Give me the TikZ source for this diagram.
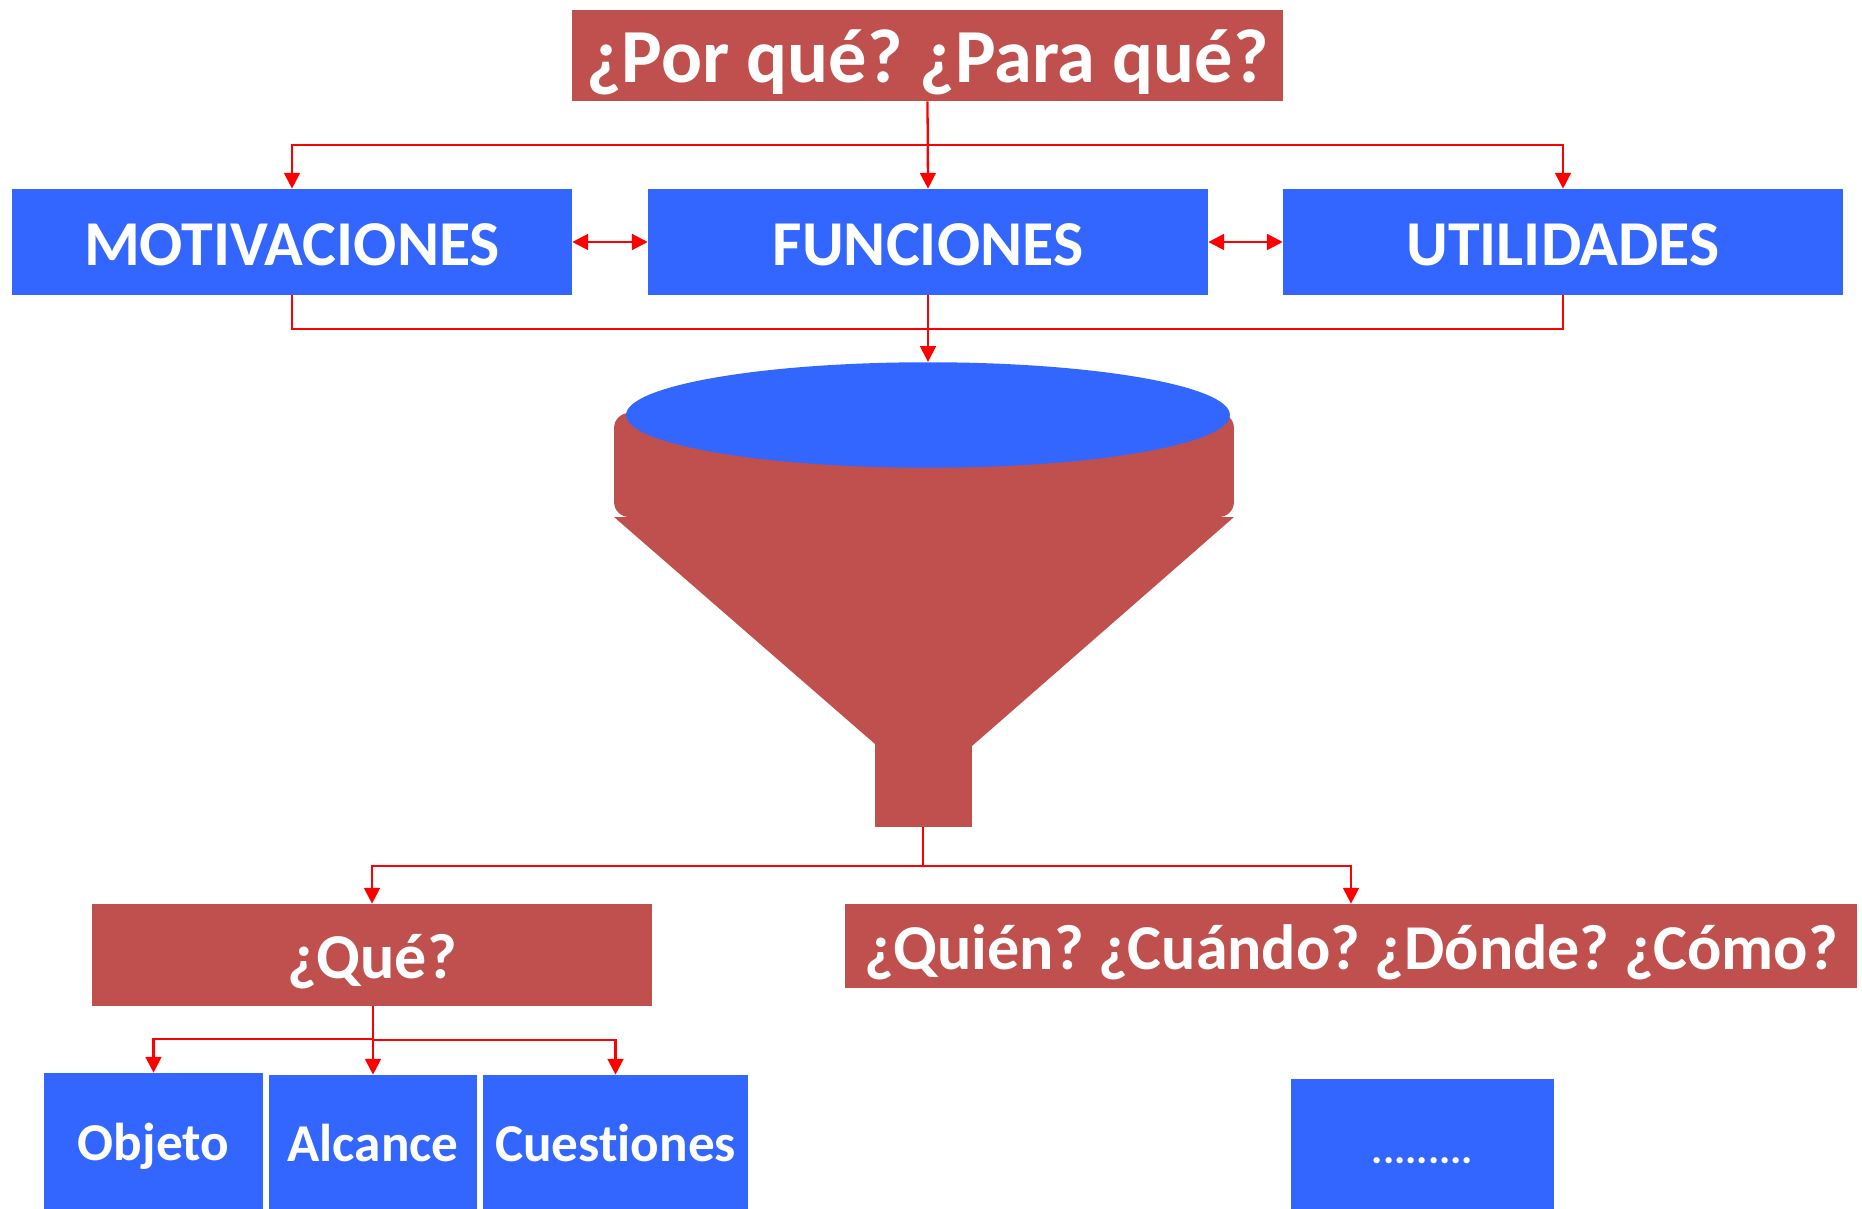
\documentclass[tikz,border=0pt]{standalone}
\usepackage{fontspec}
\setmainfont[Ligatures=NoCommon]{Carlito}
\usepackage{tikz}
\usetikzlibrary{arrows.meta,shapes.geometric}
\definecolor{funnelred}{HTML}{C0504D}
\definecolor{boxblue}{HTML}{3366FF}
\tikzset{
  box/.style={rectangle,inner sep=0pt,text=white},
  redbox/.style={box,fill=funnelred},
  bluebox/.style={box,fill=boxblue},
  huge text/.style={font=\bfseries\frenchspacing\fontsize{43.5}{44}\selectfont,text height=31pt,text depth=0pt},
  big text/.style={font=\bfseries\frenchspacing\fontsize{36.4}{37}\selectfont,text height=26.5pt,text depth=0pt},
  small text/.style={font=\bfseries\fontsize{30.3}{31}\selectfont,text height=22.3pt,text depth=0pt},
  link/.style={draw=red,line width=1.3pt},
  tip/.style={link,-{Triangle[length=9pt,width=9pt]}},
  tips/.style={link,{Triangle[length=9pt,width=9pt]}-{Triangle[length=9pt,width=9pt]}}
}

\begin{document}
\begin{tikzpicture}[x=0.02cm,y=-0.02cm]
  \useasboundingbox (0,0) rectangle (1862,1209);
  \node[redbox,huge text,minimum width=14.22cm,minimum height=1.82cm] (Q-top) at (927.5,55.5) {¿Por qué? ¿Para qué?};
  \node[bluebox,big text,minimum width=11.2cm,minimum height=2.12cm] (B-1) at (292,242) {MOTIVACIONES};
  \node[bluebox,big text,minimum width=11.2cm,minimum height=2.12cm] (B-2) at (928,242) {FUNCIONES};
  \node[bluebox,big text,minimum width=11.2cm,minimum height=2.12cm] (B-3) at (1563,242) {UTILIDADES};
  % funnel
  \fill[funnelred] (614,517) -- (875,744) -- (972,746) -- (1234,517) -- cycle;
  \node[rectangle,rounded corners=0.3cm,fill=funnelred,inner sep=0pt,minimum width=12.4cm,minimum height=2.08cm] (F-bowl) at (924,465) {};
  \node[rectangle,fill=funnelred,inner sep=0pt,minimum width=1.94cm,minimum height=1.68cm] (F-stem) at (923,785) {};
  \node[ellipse,fill=boxblue,inner sep=0pt,minimum width=12.08cm,minimum height=2.11cm] (F-mouth) at (928,415) {};
  % questions
  \node[redbox,big text,minimum width=11.2cm,minimum height=2.04cm] (Q-1) at (372,955) {¿Qué?};
  \node[redbox,big text,minimum width=20.26cm,minimum height=1.68cm] (Q-2) at (1351,946) {¿Quién? ¿Cuándo? ¿Dónde? ¿Cómo?};
  \node[bluebox,small text,minimum width=4.38cm,minimum height=2.72cm] (C-1) at (153.5,1141) {Objeto};
  \node[bluebox,small text,minimum width=4.16cm,minimum height=2.68cm] (C-2) at (373,1142) {Alcance};
  \node[bluebox,small text,minimum width=5.3cm,minimum height=2.68cm] (C-3) at (615.5,1142) {Cuestiones};
  \node[bluebox,small text,font=\bfseries\fontsize{24}{24}\selectfont,minimum width=5.26cm,minimum height=2.6cm] (C-4) at (1422.5,1144) {.........};
  % junctions
  \coordinate (J-1) at (928,145);
  \coordinate (J-2) at (928,329);
  \coordinate (J-3) at (923,866);
  \coordinate (J-4) at (373,1039);
  \coordinate (J-5) at (373,1040);
  \draw[tip] (Q-top.south) -- (B-2.north);
  \draw[tip] (J-1) -| (B-1.north);
  \draw[tip] (J-1) -| (B-3.north);
  \draw[tips] (B-1.east) -- (B-2.west);
  \draw[tips] (B-2.east) -- (B-3.west);
  \draw[link] (B-1.south) |- (J-2);
  \draw[link] (B-3.south) |- (J-2);
  \draw[tip] (B-2.south) -- (F-mouth.north);
  \draw[link] (F-stem.south) -- (J-3);
  \draw[tip] (J-3) -| (Q-1.north);
  \draw[tip] (J-3) -| (Q-2.north);
  \draw[tip] (C-2.north |- Q-1.south) -- (C-2.north);
  \draw[tip] (J-4) -| (C-1.north);
  \draw[tip] (J-5) -| (C-3.north);
\end{tikzpicture}
\end{document}
